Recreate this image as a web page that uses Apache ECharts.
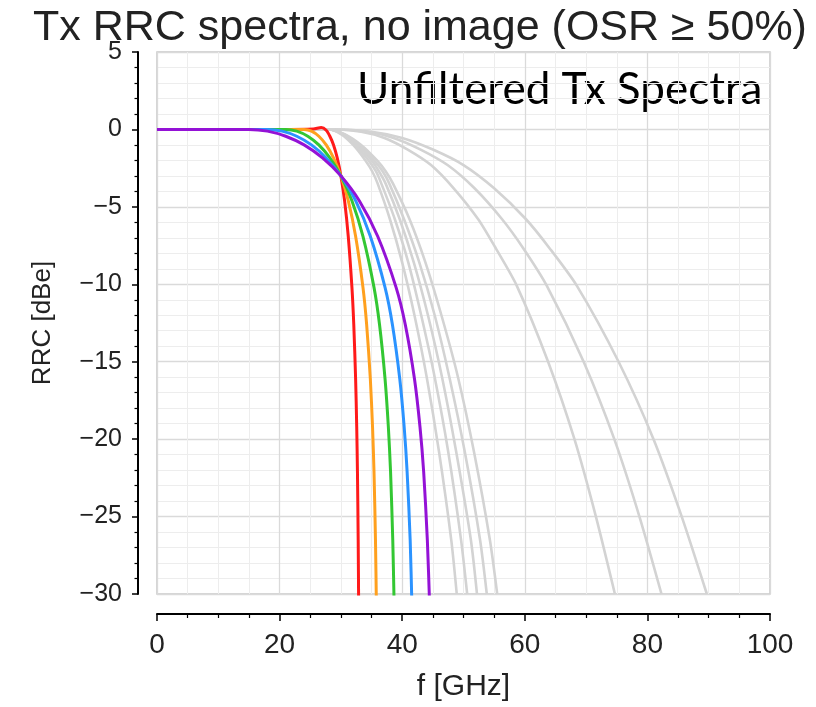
<!DOCTYPE html>
<html>
<head>
<meta charset="utf-8">
<title>Tx RRC spectra</title>
<script src="https://cdn.jsdelivr.net/npm/echarts@6.0.0/dist/echarts.min.js"></script>
<style>
  html, body { margin: 0; padding: 0; background: #fff; }
  #chart { width: 816px; height: 707px; }
</style>
</head>
<body>
<div id="chart"></div>
<script>
// [f GHz, dB]
const rrcRed = [[0,0],[20,0],[25.5,0.03],[26.8,0.12],[27.6,-0.05],[28.2,-0.44],[28.8,-1.0],[29.4,-1.84],[30,-3.0],[30.6,-4.6],[31.2,-6.9],[31.8,-10.2],[32.1,-12.6],[32.4,-16.1],[32.58,-19.2],[32.7,-22.1],[32.82,-26.5],[32.9,-31]]
const rrcOrange = [[0,0],[20,0],[24,0],[25.2,-0.11],[26.4,-0.44],[27.6,-1.0],[28.8,-1.84],[30,-3.0],[31.2,-4.6],[32.4,-6.9],[33.6,-10.2],[34.2,-12.6],[34.8,-16.1],[35.16,-19.2],[35.4,-22.1],[35.64,-26.5],[35.8,-31]]
const rrcGreen = [[0,0],[15,0],[21,0],[22.8,-0.11],[24.6,-0.44],[26.4,-1.0],[28.2,-1.84],[30,-3.0],[31.8,-4.6],[33.6,-6.9],[35.4,-10.2],[36.3,-12.6],[37.2,-16.1],[37.74,-19.2],[38.1,-22.1],[38.46,-26.5],[38.7,-31]]
const rrcBlue = [[0,0],[12,0],[18,0],[20.4,-0.11],[22.8,-0.44],[25.2,-1.0],[27.6,-1.84],[30,-3.0],[32.4,-4.6],[34.8,-6.9],[37.2,-10.2],[38.4,-12.6],[39.6,-16.1],[40.32,-19.2],[40.8,-22.1],[41.3,-26.5],[41.6,-31]]
const rrcPurple = [[0,0],[10,0],[15,0],[18,-0.11],[21,-0.44],[24,-1.0],[27,-1.84],[30,-3.0],[33,-4.6],[36,-6.9],[39,-10.2],[40.5,-12.6],[42,-16.1],[42.9,-19.2],[43.5,-22.1],[44.1,-26.5],[44.5,-31]]

const grayNear1 = [[0,0],[28,0],[30,-0.3],[32,-1.0],[34,-2.0],[35.1,-2.7],[36,-3.5],[38,-5.8],[40,-8.6],[42,-12.0],[44,-16.0],[46,-20.8],[48,-26.5],[48.9,-30]]
const grayNear2 = [[0,0],[28,0],[30.2,-0.3],[32.3,-1.0],[34.5,-2.0],[35.7,-2.7],[36.6,-3.5],[38.8,-5.8],[41.0,-8.6],[43.1,-12.0],[45.3,-16.0],[47.5,-20.8],[49.6,-26.5],[50.6,-30]]
const grayNear3 = [[0,0],[28,0],[30.3,-0.3],[32.6,-1.0],[35.0,-2.0],[36.2,-2.7],[37.3,-3.5],[39.6,-5.8],[41.9,-8.6],[44.2,-12.0],[46.5,-16.0],[48.8,-20.8],[51.2,-26.5],[52.2,-30]]
const grayNear4 = [[0,0],[28,0],[30.5,-0.3],[32.9,-1.0],[35.4,-2.0],[36.8,-2.7],[37.9,-3.5],[40.3,-5.8],[42.8,-8.6],[45.3,-12.0],[47.7,-16.0],[50.2,-20.8],[52.7,-26.5],[53.8,-30]]
const grayNear5 = [[0,0],[28,0],[30.6,-0.3],[33.3,-1.0],[35.9,-2.0],[37.3,-2.7],[38.5,-3.5],[41.2,-5.8],[43.8,-8.6],[46.4,-12.0],[49.1,-16.0],[51.7,-20.8],[54.3,-26.5],[55.5,-30]]
const grayFar1 = [[0,0],[29,0],[33.3,-0.15],[37.1,-0.55],[40.9,-1.3],[44.7,-2.3],[48.4,-3.8],[52.4,-5.8],[55.3,-7.7],[58.7,-10.1],[63.8,-15],[68.1,-20],[71.6,-25],[74.7,-30]]
const grayFar2 = [[0,0],[29,0],[34.2,-0.15],[38.6,-0.55],[43.0,-1.3],[47.4,-2.3],[51.8,-3.8],[56.3,-5.8],[59.8,-7.7],[63.6,-10.1],[69.6,-15],[74.6,-20],[78.7,-25],[82.3,-30]]
const grayFar3 = [[0,0],[29,0],[35,-0.15],[40,-0.55],[45,-1.3],[50,-2.3],[55,-3.8],[60.2,-5.8],[64.1,-7.7],[68.5,-10.1],[75.3,-15],[81,-20],[85.6,-25],[89.7,-30]]

const grays = [grayNear1, grayNear2, grayNear3, grayNear4, grayNear5, grayFar1, grayFar2, grayFar3]
const colored = [
  [rrcRed, '#ff1a1a'],
  [rrcOrange, '#ffa01e'],
  [rrcGreen, '#33c733'],
  [rrcBlue, '#2b93ff'],
  [rrcPurple, '#9412d6']
]

const font = 'Liberation Sans, Arial, sans-serif'
const myChart = echarts.init(document.getElementById('chart'))

const line = (data, color, width) => ({
  type: 'line',
  data: data,
  showSymbol: false,
  smooth: 0.25,
  silent: true,
  lineStyle: { color: color, width: width },
  emphasis: { disabled: true }
})

const options = {
  animation: false,
  backgroundColor: '#fff',
  title: {
    text: 'Tx RRC spectra, no image (OSR \u2265 50%)',
    left: 28,
    top: 2,
    textStyle: { fontFamily: font, fontSize: 43, fontWeight: 'normal', color: '#222' }
  },
  grid: {
    left: 157, right: 46, top: 52, bottom: 110,
    show: true, borderColor: '#c8c8c8', borderWidth: 1.5
  },
  xAxis: {
    type: 'value', min: 0, max: 100, interval: 20, offset: 20,
    axisLine: { show: true, onZero: false, lineStyle: { color: '#000', width: 2 } },
    axisTick: { show: true, length: 7, lineStyle: { color: '#000', width: 1.5 } },
    minorTick: { show: true, splitNumber: 4, length: 4, lineStyle: { color: '#000', width: 1.2 } },
    splitLine: { show: true, lineStyle: { color: '#dadada', width: 1.3 } },
    minorSplitLine: { show: true, lineStyle: { color: '#ededed', width: 1 } },
    axisLabel: { fontFamily: font, fontSize: 28, color: '#222', margin: 17 },
    name: 'f [GHz]', nameLocation: 'middle', nameGap: 58,
    nameTextStyle: { fontFamily: font, fontSize: 30, color: '#222' }
  },
  yAxis: {
    type: 'value', min: -30, max: 5, interval: 5, offset: 19,
    axisLine: { show: true, onZero: false, lineStyle: { color: '#000', width: 2 } },
    axisTick: { show: true, length: 6, lineStyle: { color: '#000', width: 1.5 } },
    minorTick: { show: true, splitNumber: 5, length: 3.5, lineStyle: { color: '#000', width: 1.2 } },
    splitLine: { show: true, lineStyle: { color: '#dadada', width: 1.3 } },
    minorSplitLine: { show: true, lineStyle: { color: '#ededed', width: 1 } },
    axisLabel: {
      fontFamily: font, fontSize: 25, color: '#222', margin: 16,
      formatter: v => String(v).replace('-', '\u2212')
    },
    name: 'RRC [dBe]', nameLocation: 'middle', nameGap: 82, nameRotate: 90,
    nameTextStyle: { fontFamily: font, fontSize: 26, color: '#222' }
  },
  graphic: [{
    type: 'text', left: 357, top: 68, silent: true,
    style: { text: 'Unfiltered Tx Spectra', fontFamily: 'Lato, Open Sans, sans-serif', fontSize: 44, fontWeight: 'normal', fill: '#000' }
  }],
  series: [
    ...grays.map(d => line(d, '#d3d3d3', 2.6)),
    ...colored.map(([d, c]) => line(d, c, 3))
  ]
}
myChart.setOption(options)
</script>
</body>
</html>
